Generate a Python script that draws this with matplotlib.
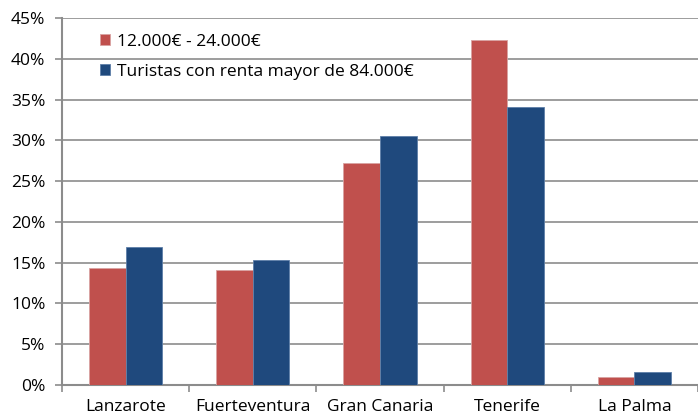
import numpy as np
import matplotlib
matplotlib.use("Agg")
import matplotlib.pyplot as plt
from matplotlib.patches import Rectangle
from matplotlib.ticker import FuncFormatter, FixedLocator

# Data
islands = ["Lanzarote", "Fuerteventura", "Gran Canaria", "Tenerife", "La Palma"]
renta_baja = [14.35, 14.1, 27.2, 42.3, 1.0]
renta_alta = [16.9, 15.3, 30.5, 34.1, 1.6]
series_labels = ["12.000€ - 24.000€", "Turistas con renta mayor de 84.000€"]

RED = "#C0504D"
BLUE = "#1F497D"
GRID = "#8C8C8C"
FS = 12.5

plt.rcParams["font.family"] = ["Open Sans", "DejaVu Sans"]

fig = plt.figure(figsize=(6.98, 4.16), dpi=100)
ax = fig.add_axes([62 / 698, 1 - 385 / 416, 1 - 62 / 698, 367 / 416])

x = np.arange(len(islands))
w = 0.287
ax.bar(x - w / 2, renta_baja, w, color=RED, label=series_labels[0],
       edgecolor="#D9A3A2", linewidth=0.6, zorder=3)
ax.bar(x + w / 2, renta_alta, w, color=BLUE, label=series_labels[1],
       edgecolor="#5E7FA8", linewidth=0.6, zorder=3)

ax.set_ylim(0, 45)
ax.set_xlim(-0.5, len(islands) - 0.5)
ax.set_yticks(np.arange(0, 46, 5))
ax.yaxis.set_major_formatter(FuncFormatter(lambda v, p: f"{v:.0f}%"))
ax.yaxis.grid(True, color=GRID, linewidth=1.2, zorder=0)

ax.set_xticks(x)
ax.set_xticklabels(islands)
ax.xaxis.set_minor_locator(FixedLocator(np.arange(-0.5, len(islands), 1.0)))
ax.tick_params(axis="x", which="major", length=0, pad=10, labelsize=FS)
ax.tick_params(axis="x", which="minor", length=5, color=GRID, width=1.2)
ax.tick_params(axis="y", length=5, color=GRID, width=1.2, labelsize=FS, pad=7)

for s in ["top", "right"]:
    ax.spines[s].set_visible(False)
for s in ["left", "bottom"]:
    ax.spines[s].set_color(GRID)
    ax.spines[s].set_linewidth(1.5)

# white legend background hiding the grid behind it
ax.add_patch(Rectangle((0, 0.785), 0.591, 0.21, transform=ax.transAxes,
                       facecolor="white", edgecolor="none", zorder=1))
ax.legend(loc="upper left", bbox_to_anchor=(0.035, 1.0), frameon=False,
          fontsize=FS, handlelength=0.6, handleheight=0.6, handletextpad=0.4,
          labelspacing=0.8)

fig.savefig("out.png", dpi=100)
